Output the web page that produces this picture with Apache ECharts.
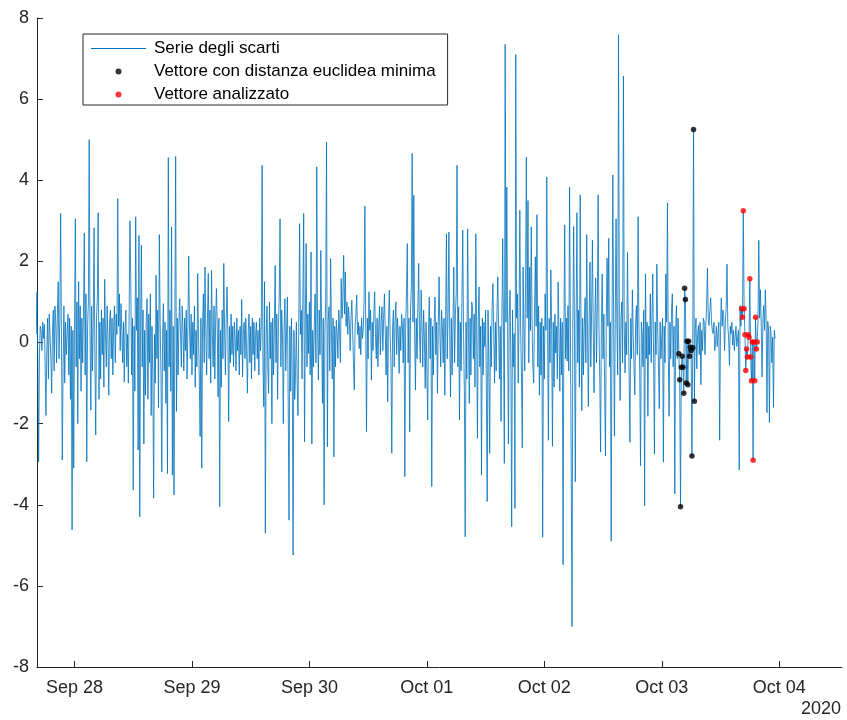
<!DOCTYPE html>
<html><head><meta charset="utf-8">
<script src="https://cdn.jsdelivr.net/npm/echarts@6/dist/echarts.min.js"></script>
<style>html,body{margin:0;padding:0;background:#fff}#c{width:847px;height:720px}</style>
</head><body><div id="c"></div>
<script>
// 10-minute samples starting Sep 27 2020 16:10 (UTC)
const startTime = Date.UTC(2020, 8, 27, 16, 10);
const stepMs = 10 * 60 * 1000;

const scartiA = [
0.2,1.25,-0.5,-2.94,-0.3,0.4,0.3,-0.2,0.5,0.1,
0.45,-0.6,-1.8,-0.2,0.6,-0.9,0.7,0.2,-0.4,-1.25,
0.3,0.8,-0.7,0.9,0.5,-0.5,0.7,1.5,-0.4,0.6,
3.18,0.2,-2.9,-0.6,0.9,-1.0,0.5,-0.3,0.2,0.7,
-0.8,0.6,-1.4,0.4,-4.62,0.3,-3.1,0.5,3.05,-0.6,
1.0,-2.0,1.5,-0.4,0.9,-1.2,0.6,-0.5,0.8,2.7,
-0.8,1.2,-2.94,0.4,1.0,5.0,0.3,-1.67,0.9,-0.7,
0.5,2.83,-0.5,-2.28,0.6,1.1,3.2,-1.4,0.5,-0.9,
0.8,-0.3,0.6,-1.1,1.56,0.2,-0.6,0.9,0.1,-1.3,
0.5,0.8,-0.4,0.6,-0.8,0.4,0.9,-0.5,0.7,0.2,
3.55,0.4,1.2,-0.2,0.96,0.3,-0.5,0.5,-0.97,0.4,
0.8,-0.6,0.2,-1.0,0.7,3.0,1.5,-0.8,0.6,-3.64,
0.4,-1.2,3.1,0.3,1.1,-2.65,2.64,-4.3,0.5,2.4,
-0.6,0.8,-2.5,0.3,-1.3,0.6,1.08,-1.4,0.7,-0.5,
1.2,-1.8,0.4,-0.8,-3.84,0.2,-1.0,1.66,-0.4,0.8,
-1.6,2.66,0.5,-0.8,-3.19,0.2,0.96,-0.7,0.5,-1.5,
0.3,-3.23,4.56,-0.6,0.8,-1.2,2.85,-3.27,0.4,-3.76,
0.3,4.59,-1.7,0.6,-0.8,0.5,1.08,0.2,-0.6,0.9,
0.3,-0.7,0.6,-0.2,0.8,-0.9,0.4,2.13,0.3,-0.4,
0.7,-0.8,0.5,-0.3,0.9,-1.1,0.3,-0.6,1.7,0.2,
-0.9,-2.32,0.6,-3.1,0.4,1.2,-0.5,1.86,0.3,-0.8,
0.6,1.7,-0.4,0.8,-1.0,1.78,0.2,-0.6,0.9,-0.9,
0.5,1.33,0.4,-1.34,0.6,-4.05,0.3,-1.1,0.8,-0.4,
1.95,0.3,-0.8,0.6,1.37,0.2,-1.95,0.4,-0.5,0.7,
-0.3,0.4,-0.6,0.5,0.1,-0.7,0.6,-0.2,0.3,-0.8,
0.4,-0.3,1.06,-0.85,0.2,0.5,-0.4,0.6,-0.2,-1.25,
0.3,0.7,-0.5,0.4,-0.9,0.6,-0.3,0.5,-0.7,0.2,
0.5,-0.4,0.3,-0.8,0.6,-0.2,0.4,4.37,-0.5,-1.58,
1.5,-4.7,0.2,0.9,-0.6,-1.25,1.0,-0.4,0.5,-2.0,
0.6,-0.8,0.3,1.9,-0.5,0.7,-1.4,0.4,1.1,3.05,
-0.6,0.8,0.2,-2.0,0.4,1.08,-0.7,0.3,1.12,-1.5,
-4.38,0.4,-1.2,0.6,-0.8,-5.24,0.3,-1.4,-0.72,0.5,
-1.0,-1.8,0.6,2.93,0.2,0.8,-0.9,1.2,3.18,-2.45,
0.5,2.44,-0.6,0.7,-0.27,1.0,-0.8,2.23,-2.5,0.3,
-0.6,0.39,1.2,-0.5,4.33,0.4,-0.93,0.8,-0.3,2.27,
0.3,-1.5,0.6,-4.0,0.2,1.1,4.94,-2.57,0.5,0.88,
-0.7,2.07,0.3,-0.9,0.6,-2.82,0.4,-0.6,0.55,0.2,
-0.39,0.8,0.3,-0.5,1.58,0.6,1.1,2.15,0.7,1.74,
0.4,1.0,0.2,0.88,0.5,-0.2,0.6,1.04,0.3,-0.5,
-1.17,0.4,0.7,1.17,0.2,0.5,-0.15,0.4,-0.3,0.6,
0.1,0.3,1.0,3.36,0.5,-2.2,0.6,-0.4,1.25,0.3,
0.8,-0.93,0.5,-0.2,0.7,1.25,0.2,-0.4,0.6,-0.6,
0.4,0.9,-0.3,0.5,0.88,-0.2,0.6,1.2,0.3,-0.8,
0.4,-1.46,0.6,1.29,0.2,-0.5,-2.73,0.4,0.8,-0.6,
0.5,1.0,-0.3,0.6,0.2,-0.76,0.4,-0.2,0.7,0.43,
-0.5,0.6,-3.31,0.3,1.2,2.44,-0.5,0.6,-2.2,0.8,
1.4,4.66,0.5,3.63,0.3,-1.17,0.6,-0.4,0.9,1.95,
0.2,-0.5,1.29,0.4,-0.6,0.8,0.1,-1.13,0.5,-0.7,
-1.91,0.3,1.12,-0.4,0.6,-3.55,0.4,-0.8,0.5,1.12,
-0.3,0.5,-1.25,0.4,1.62,0.2,-0.6,0.8,0.39,-0.5,
0.6,-1.3,0.5,2.68,-0.4,0.7,2.72,0.3,-1.34,0.6,
-0.8,0.4,1.86,-0.5,0.7,1.2,4.37,-0.6,0.88,-1.91,
0.5,-0.7,1.1,2.77,0.2,-1.2,-4.79,0.5,-0.9,2.8,
0.3,-1.5,0.6,-0.8,1.0,0.88,-0.4,0.7,-1.1,2.68,
0.4,-2.36,0.5,1.37,-0.6,0.4,-3.27,0.6,-0.8,0.5,
-0.1,0.8,-1.2,-3.92,0.8,-0.5,-2.73,0.4,-0.6,0.9,
1.45,0.2,-1.0,0.5,-0.7,0.8,1.62,0.3,-0.9,0.4,
-1.95,0.6,2.56,0.2,-2.98,7.35,0.5,3.83,0.4,-2.5,
0.6,1.29,-0.5,-4.54,0.8,-0.6,0.22,-4.09,7.1,0.6,
1.2,-1.0,0.5,3.26,0.3,-0.8,-2.6,1.86,0.4,-0.7,
1.5,4.57,0.6,3.5,-0.5,1.86,0.3,2.85,0.5,-0.6,
-1.0,0.8,2.11,0.4,3.15,-0.6,0.9,-1.3,0.5,-0.8,
0.6,-4.8,0.4,-0.9,1.2,0.3,4.08,0.5,-2.41,0.6,
-0.5,1.79,0.3,-2.56,0.5,-1.1,0.7,-0.26,0.4,-0.9,
1.49,0.2,-1.2,0.6,-0.8,0.5,-5.48,0.3,2.9,-0.4,
0.6,-0.46,0.9,-0.7,3.83,0.4,-3.09,-7.0,0.5,2.86,
0.3,-3.43,0.6,3.2,-0.5,0.8,-1.1,3.64,0.4,-1.68,
0.6,-0.8,0.4,1.1,-0.5,2.66,0.3,-1.58,0.5,1.98,
-0.6,0.8,2.52,0.3,-1.24,0.6,1.59,-0.5,0.8,3.64,
0.4,-0.9,-2.7,0.5,1.69,-0.4,0.7,-1.2,-2.8,0.6,
2.08,0.4,2.57,-0.6,0.5,-4.9,0.3,4.13,0.5,-2.31,
0.6,3.05,0.4,-0.8,7.59,0.5,-1.43,0.6,1.0,-0.5,
6.57,0.4,-0.75,0.5,-0.3,2.22,0.4,-0.8,-2.46,0.6,
-0.4,1.3,0.2,-0.6,-1.29,0.5,0.91,-0.3,3.1,0.4,
-0.7,-3.04,0.5,0.22,-0.6,0.8,-4.02,1.69,-0.4,0.5,
-1.82,0.4,-0.3,1.2,-0.5,0.6,1.69,-0.4,-2.75,0.5,
-0.3,1.93,0.4,-0.6,-1.63,0.5,-0.4,0.13,0.6,-2.95,
0.4,-0.5,1.69,0.5,3.44,-0.3,-1.82,0.5,-0.4,0.8,
1.2,-0.6,0.4,-3.73,0.3,0.91,-0.4,0.6
];
const vettoreMinimo = [-0.28,-0.92,-4.05,-0.61,-0.34,-0.61,-1.25,1.34,1.06,-1.0,0.03,-1.04,0.03,-0.34,-0.11,-0.2,-2.8,-0.13,5.25,-1.45];
const scartiB = [
0.3,0.6,-0.65,0.2,0.42,-0.3,0.5,-1.04,0.3,-0.2,0.6,0.52,
-0.3,0.4,0.9,1.83,0.6,0.42,0.8,1.1,0.5,0.3,
0.22,0.5,-0.2,0.03,0.4,-0.1,0.22,0.5,-2.41,0.3,
1.1,0.4,0.8,0.61,-0.2,0.5,0.9,1.93,0.4,0.1,
-0.56,0.4,0.22,0.5,-0.07,0.3,-0.2,0.13,0.4,-0.1,
-0.07,0.3,-3.14,0.91,0.4
];
const vettoreAnalizzato = [0.83,0.62,3.25,0.83,0.19,-0.69,-0.16,-0.36,0.19,0.13,1.57,-0.36,-0.94,0.01,-2.9,0.01,-0.94,0.62,-0.16,0.01];
const scartiC = [0.5,2.52,0.6,1.3,0.4,-0.85,0.5,0.91,0.3,1.3,0.6,-1.73,0.52,0.3,-1.97,0.4,0.22,-0.5,0.13,-1.6,0.3,0.1];

const tickDays = [Date.UTC(2020,8,28), Date.UTC(2020,8,29), Date.UTC(2020,8,30), Date.UTC(2020,9,1), Date.UTC(2020,9,2), Date.UTC(2020,9,3), Date.UTC(2020,9,4)];
const tickLabels = ['Sep 28','Sep 29','Sep 30','Oct 01','Oct 02','Oct 03','Oct 04'];
const yearLabel = '2020';
const yTicks = [-8,-6,-4,-2,0,2,4,6,8];

const serie = scartiA.concat(vettoreMinimo, scartiB, vettoreAnalizzato, scartiC);
const tAt = i => startTime + i * stepMs;
const lineData = serie.map((v, i) => [tAt(i), v]);
const minStart = scartiA.length;
const anStart = scartiA.length + vettoreMinimo.length + scartiB.length;
const minData = vettoreMinimo.map((v, k) => [tAt(minStart + k), v]);
const anData = vettoreAnalizzato.map((v, k) => [tAt(anStart + k), v]);

const FONT = '"Liberation Sans", Arial, Helvetica, sans-serif';
const AX = '#262626';
const chart = echarts.init(document.getElementById('c'), null, {renderer: 'canvas'});
chart.setOption({
  animation: false,
  backgroundColor: '#ffffff',
  textStyle: {fontFamily: FONT},
  grid: {left: 37, right: 5, top: 18, bottom: 53, containLabel: false},
  legend: {
    orient: 'vertical', left: 83, top: 34,
    backgroundColor: '#ffffff', borderColor: AX, borderWidth: 1, borderRadius: 0,
    padding: [6, 12, 2, 8], itemGap: 6, itemWidth: 55, itemHeight: 6,
    textStyle: {fontSize: 17, color: '#000', fontFamily: FONT, lineHeight: 17, padding: [0, 0, 0, 3]},
    data: [
      {name: 'Serie degli scarti', icon: 'path://M0,0L110,0L110,2L0,2Z', itemStyle: {color: '#0072BD'}},
      {name: 'Vettore con distanza euclidea minima', icon: 'circle'},
      {name: 'Vettore analizzato', icon: 'circle'}
    ]
  },
  xAxis: {
    type: 'value',
    min: Date.UTC(2020, 8, 27, 16, 20),
    max: Date.UTC(2020, 9, 4, 12, 50),
    axisLine: {show: true, onZero: false, lineStyle: {color: AX, width: 1}},
    axisTick: {show: true, inside: true, length: 6, lineStyle: {color: AX}, customValues: tickDays},
    axisLabel: {
      customValues: tickDays, margin: 12, fontSize: 18, color: AX, fontFamily: FONT,
      formatter: function (val) { const k = tickDays.indexOf(val); return k >= 0 ? tickLabels[k] : ''; }
    },
    splitLine: {show: false}, minorTick: {show: false}
  },
  yAxis: {
    type: 'value', min: -8, max: 8, interval: 2,
    axisLine: {show: true, lineStyle: {color: AX, width: 1}},
    axisTick: {show: true, inside: true, length: 6, lineStyle: {color: AX}},
    axisLabel: {margin: 8, fontSize: 18, color: AX, fontFamily: FONT,
      formatter: function (v) { return yTicks.indexOf(v) >= 0 ? String(v) : ''; }},
    splitLine: {show: false}
  },
  graphic: [{
    type: 'text', x: 841, y: 709,
    style: {text: yearLabel, fontSize: 18, fontFamily: FONT, fill: AX, textAlign: 'right', textVerticalAlign: 'middle'}
  }],
  series: [
    {type: 'line', name: 'Serie degli scarti', data: lineData, symbol: 'none', showSymbol: false,
     lineStyle: {width: 0.8, color: '#0072BD'}, itemStyle: {color: '#0072BD'}, z: 2, silent: true},
    {type: 'scatter', name: 'Vettore con distanza euclidea minima', data: minData, symbolSize: 5.5,
     itemStyle: {color: '#000000'}, z: 3, silent: true},
    {type: 'scatter', name: 'Vettore analizzato', data: anData, symbolSize: 5.5,
     itemStyle: {color: '#FF0000'}, z: 4, silent: true}
  ]
});
</script></body></html>
